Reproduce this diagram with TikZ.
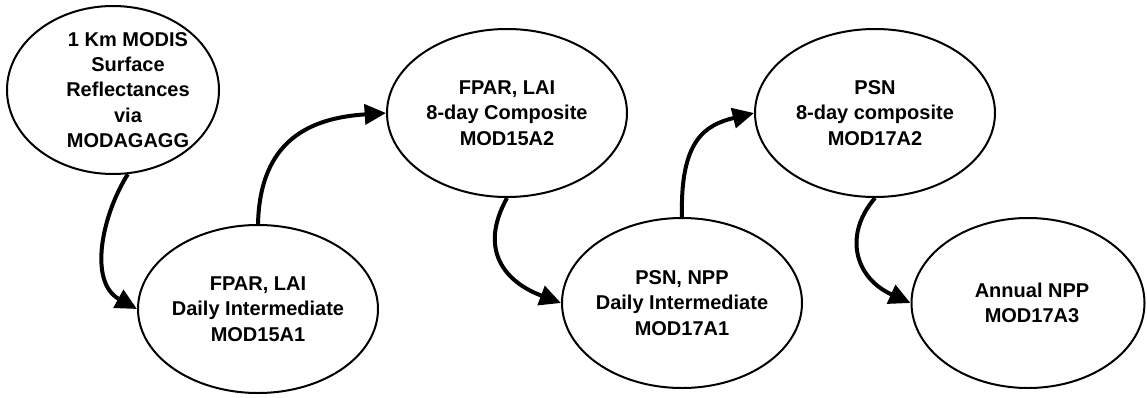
\documentclass[tikz,border=0pt]{standalone}
\usepackage{fontspec}
\setmainfont{Liberation Sans}
\usetikzlibrary{shapes.geometric,arrows.meta}

\tikzset{every picture/.style={line width=0.75pt}}
\tikzset{
  blob/.style={draw, ellipse, line width=1.5pt, inner sep=0pt},
  txt/.style={align=center, inner sep=0pt, font=\fontsize{15pt}{19pt}\selectfont\bfseries},
  flow/.style={line width=3pt, -{Triangle[length=16pt,width=15pt]}}
}

\begin{document}
\begin{tikzpicture}[x=0.75pt,y=0.75pt,yscale=-1,xscale=1]
	\useasboundingbox (0,0) rectangle (1147,397);
	
	%Ellipse [surface reflectances]
	\node [blob, minimum width=159pt, minimum height=126pt] (e1) at (113,90) {};
	%Ellipse [MOD15A1]
	\node [blob, minimum width=180pt, minimum height=126pt] (e2) at (258,309) {};
	%Ellipse [MOD15A2]
	\node [blob, minimum width=180pt, minimum height=126pt] (e3) at (507,113) {};
	%Ellipse [MOD17A1]
	\node [blob, minimum width=180pt, minimum height=127.5pt] (e4) at (682,303) {};
	%Ellipse [MOD17A2]
	\node [blob, minimum width=180pt, minimum height=126pt] (e5) at (875,113) {};
	%Ellipse [MOD17A3]
	\node [blob, minimum width=174.75pt, minimum height=127.5pt] (e6) at (1028,303) {};
	
	%Curve Lines [reflectances -> MOD15A1]
	\draw [flow] (e1.-80) .. controls (102,215) and (88,282) .. (e2.west);
	%Curve Lines [MOD15A1 -> MOD15A2]
	\draw [flow] (e2.north) .. controls (260,140) and (310,118) .. (e3.west);
	%Curve Lines [MOD15A2 -> MOD17A1]
	\draw [flow] (e3.south) .. controls (478,250) and (505,282) .. (e4.west);
	%Curve Lines [MOD17A1 -> MOD17A2]
	\draw [flow] (e4.north) .. controls (680,140) and (705,125) .. (e5.west);
	%Curve Lines [MOD17A2 -> MOD17A3]
	\draw [flow] (e5.south) .. controls (843,235) and (855,278) .. (e6.west);
	
	% Text Node
	\node [txt] (t1) at (128,90) {1 Km MODIS\\Surface\\Reflectances\\via\\MODAGAGG};
	% Text Node
	\node [txt] (t2) at (e2) {FPAR, LAI\\Daily Intermediate\\MOD15A1};
	% Text Node
	\node [txt] (t3) at (e3) {FPAR, LAI\\8-day Composite\\MOD15A2};
	% Text Node
	\node [txt] (t4) at (e4) {PSN, NPP\\Daily Intermediate\\MOD17A1};
	% Text Node
	\node [txt] (t5) at (e5) {PSN\\8-day composite\\MOD17A2};
	% Text Node
	\node [txt] (t6) at (1032,303) {Annual NPP\\MOD17A3};
\end{tikzpicture}
\end{document}
